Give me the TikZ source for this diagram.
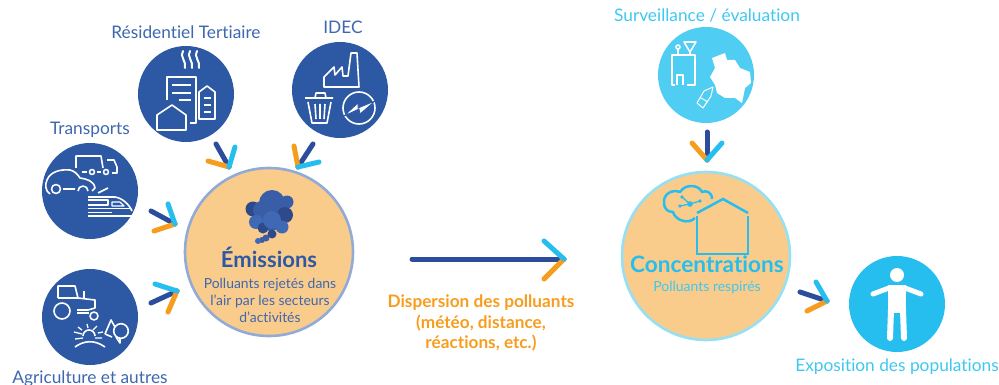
\documentclass[tikz,border=0pt]{standalone}
\usepackage{fontspec}
\setmainfont{Lato}[Ligatures={NoCommon,NoRare,NoDiscretionary}]
\usetikzlibrary{positioning,calc}
\definecolor{DarkBlue}{RGB}{44,88,164}
\definecolor{TextBlue}{RGB}{62,103,175}
\definecolor{NavyTick}{RGB}{44,76,156}
\definecolor{SkyTick}{RGB}{37,190,238}
\definecolor{AmberTick}{RGB}{247,157,30}
\definecolor{PaleOrange}{RGB}{250,204,140}
\definecolor{EdgeBlue}{RGB}{146,170,214}
\definecolor{EdgeSky}{RGB}{150,224,243}
\definecolor{LightSky}{RGB}{79,205,242}
\definecolor{TextSky}{RGB}{62,200,240}
\definecolor{PuffMain}{RGB}{58,93,168}
\definecolor{PuffDark}{RGB}{47,74,138}
\definecolor{PuffLight}{RGB}{63,104,181}
\tikzset{%
  sector/.style={%
    circle, fill=DarkBlue, minimum size=96pt, inner sep=0pt, outer sep=0pt
  },
  bigdisc/.style={%
    circle, fill=PaleOrange, line width=2.6pt, minimum size=168pt, inner sep=0pt, outer sep=0pt
  },
  caption/.style={%
    font=\fontsize{17.3}{20}\selectfont, text=TextBlue, inner sep=0pt, anchor=base
  },
  skycaption/.style={%
    caption, text=TextSky
  },
  icon/.style={white, line width=1.6pt, line join=round},
  navyline/.style={line width=5pt, line cap=round, draw=NavyTick},
  skyline/.style={line width=5pt, line cap=round, draw=SkyTick},
  amberline/.style={line width=5pt, line cap=round, draw=AmberTick},
}
\begin{document}
\begin{tikzpicture}[x=1pt,y=-1pt]
    \useasboundingbox (0,0) rectangle (999,385);

    % discs
    \node (RESID)[sector] at (186,94) {};
    \node (IDEC)[sector] at (340,90) {};
    \node (TRANS)[sector] at (90,191) {};
    \node (AGRI)[sector] at (90,317) {};
    \node (EMIS)[bigdisc, draw=EdgeBlue] at (269,252) {};
    \node (SURV)[sector, fill=LightSky] at (706,75) {};
    \node (CONC)[bigdisc, draw=EdgeSky] at (706,256) {};
    \node (EXPO)[sector, fill=SkyTick] at (897,304) {};

    % captions
    \node (RESIDTXT)[caption] at (186,39) {Résidentiel Tertiaire};
    \node (IDECTXT)[caption] at (343,34) {IDEC};
    \node (TRANSTXT)[caption] at (90,135) {Transports};
    \node (AGRITXT)[caption] at (90,383) {Agriculture et autres};
    \node (SURVTXT)[skycaption] at (707,22) {Surveillance / évaluation};
    \node (EXPOTXT)[skycaption] at (897,371) {Exposition des populations};

    % residentiel
    \foreach \dx in {0,7,14}{
      \draw[icon, line width=2pt, line cap=round, xshift=\dx pt]
        (183,51) .. controls (179,56) and (187,62) .. (185,68);
    }
    \draw[icon] (167,100) -- (167,77) -- (196,77) -- (196,123) -- (190,123);
    \draw[icon] (172,85) -- (191,85) (172,93) -- (191,93) (179,100) -- (191,100);
    \draw[icon] (199,119) -- (215,119) -- (215,92) -- (207,86) -- (199,92) -- cycle;
    \draw[icon] (204,98) -- (211,98) (204,105) -- (211,105) (204,112) -- (211,112);
    \draw[icon, fill=DarkBlue] (157,130) -- (186,130) -- (186,115) -- (172,105) -- (157,115) -- cycle;

    % idec
    \draw[icon] (324,87) -- (359,87) -- (357,53) -- (351,53) -- (348,76) -- (343,76) -- (342,67)
      -- (335,75) -- (334,67) -- (324,77) -- cycle;
    \draw[icon] (305,98) -- (333,98) (315,98) -- (316,93) -- (325,93) -- (326,98);
    \draw[icon] (308,102) -- (312,123) -- (327,123) -- (331,102);
    \draw[icon] (315,104) -- (316,119) (320,104) -- (320,119) (325,104) -- (324,119);
    \draw[icon] (359,108) circle (16);
    \fill[white, draw=DarkBlue, line width=.8pt] (344,116) -- (358,103) -- (358,108) -- (375,101) -- (360,114) -- (359,109) -- cycle;

    % transports
    \draw[icon] (76,168) -- (76,156) -- (101,156) -- (103,168);
    \draw[icon] (107,160) -- (114,160) -- (117,167) -- (117,173) -- (112,173);
    \draw[icon] (82,172) -- (87,172) (97,172) -- (101,172);
    \draw[icon] (92,172) circle (2.5) (106,172) circle (2.5);
    \draw[icon] (50,194) .. controls (45,191) and (45,184) .. (47,180) .. controls (50,172) and (60,169) .. (70,170)
      .. controls (75,171) and (78,175) .. (80,178) .. controls (87,179) and (94,181) .. (95,188) -- (92,191);
    \draw[icon] (56,189) circle (4.5) (63,189) -- (75,189);
    \draw[icon] (78,191) arc (180:360:5);
    \draw[icon] (98,193) -- (108,188) (88,197) -- (115,197) .. controls (122,198) and (129,204) .. (132,211);
    \draw[icon, line width=1.2pt] (88,200) -- (108,200) -- (108,205) -- (88,205);
    \draw[icon, line width=1.2pt] (112,202) -- (120,202) -- (124,206) -- (112,206) -- cycle;
    \draw[icon] (88,208.5) -- (131,208.5) (88,216) -- (132,216);
    \draw[icon, line width=1pt] (88,212) -- (112,212);

    % agriculture
    \draw[icon] (62,311) circle (8) (94,316) circle (4);
    \draw[icon] (58,298) -- (58,286) -- (75,286) -- (78,298) -- (95,300) -- (95,308) -- (88,310) -- (77,310);
    \draw[icon] (58,298) -- (78,298) (84,291) -- (84,299) (77,313) -- (89,313);
    \draw[icon] (83,336) arc (180:360:6);
    \draw[icon] (75,347) .. controls (83,341) and (94,339) .. (105,347);
    \draw[icon, line width=1.3pt] (87,324) -- (88,328) (78,327) -- (82,330) (97,326) -- (93,330) (74,332) -- (82,334) (98,333) -- (103,332) (75,339) -- (83,338) (95,338) -- (102,338);
    \draw[icon] (105,334) -- (111,320) -- (115,327) (105,334) -- (112,337);
    \draw[icon] (121,331) circle (7.3) (116,337) -- (120,343) -- (120,338);

    % emissions cloud
    \foreach \cx/\cy/\cr/\tone in {%
      270/218/13/PuffMain, 287/202/6.5/PuffMain, 253/209/7.5/PuffDark, 272/203/13/PuffMain, 262/210/9/PuffMain,
      285/215/8/PuffDark, 256/222/7/PuffLight, 263/228/5.5/PuffDark, 272/220/9/PuffLight, 282/227/6.5/PuffLight,
      272/234/4.5/PuffDark, 266/238/3.5/PuffMain, 262/240/3/PuffMain, 258/241/3/PuffLight}{
      \fill[\tone] (\cx,\cy) circle (\cr);
    }
    \node (EMISTXT)[inner sep=0pt, anchor=base, text=DarkBlue, font=\fontsize{22}{26}\selectfont\bfseries] at (269,267) {Émissions};
    \node (EMISSUB)[inner sep=0pt, text=TextBlue, align=center, font=\fontsize{13.9}{17}\selectfont] at (270,300) {Polluants rejetés dans\\l’air par les secteurs\\d’activités};

    % concentrations
    \draw[SkyTick, line width=2.5pt, line join=round] (712,199) .. controls (712,192) and (706,190) .. (702,192)
      .. controls (699,185) and (686,183) .. (680,192) .. controls (672,189) and (663,194) .. (664,203)
      .. controls (664,209) and (668,212) .. (673,212) .. controls (675,220) and (688,225) .. (695,218);
    \draw[SkyTick, line width=1.2pt] (682,197) -- (690,204) -- (700,201) (680,206) -- (690,204);
    \fill[SkyTick] (690,204) circle (2.8) (700,201) circle (1.8) (680,206) circle (1.8) (682,197) circle (1.8);
    \draw[SkyTick, line width=2.5pt] (697,213) -- (723,199) -- (748,213);
    \draw[SkyTick, line width=2.5pt] (697,216) -- (697,254) -- (748,254) -- (748,216);
    \node (CONCTXT)[inner sep=0pt, anchor=base, text=SkyTick, font=\fontsize{22.6}{26}\selectfont\bfseries] at (707,272) {Concentrations};
    \node (CONCSUB)[inner sep=0pt, anchor=base, text=TextSky, font=\fontsize{14}{16}\selectfont] at (707,291) {Polluants respirés};

    % surveillance
    \draw[icon] (675,85) -- (672,85) -- (672,55) -- (695,55) -- (695,85) -- (687,85);
    \draw[icon] (677,85) -- (677,75) -- (683,75) -- (683,85);
    \draw[icon] (678,49) -- (678,54) (678,47) circle (2);
    \draw[icon] (684,42) -- (696,42) -- (690,52) -- cycle (690,52) -- (690,55);
    \fill[white] (712,58) -- (725,53) -- (727,60) -- (735,60) -- (740,68) -- (750,72) -- (751,83) -- (745,88)
      -- (742,103) -- (735,98) -- (725,98) -- (717,93) -- (715,85) -- (710,77) -- (715,68) -- cycle;
    \draw[icon, line width=1pt] (697,103) -- (703,108) -- (711,96) -- (713,87) -- (704,91) -- cycle (701,98) -- (708,102);

    % person
    \fill[white] (897,275) circle (7);
    \draw[white, line width=5pt, line cap=round] (873,294) -- (889,288) (921,294) -- (905,288);
    \fill[white] (888,285) -- (906,285) -- (906,313) -- (888,313) -- cycle;
    \draw[white, line width=6pt, line cap=round] (891,310) -- (890,338) (903,310) -- (904,338);

    % dispersion
    \node (DISPTXT)[inner sep=0pt, align=center, text=AmberTick, font=\fontsize{17.2}{20.5}\selectfont\bfseries] at (481,323) {Dispersion des polluants\\(météo, distance,\\réactions, etc.)};

    % ticks
    \foreach \name/\tip/\navy/\amber/\sky in {%
      res/{229,167}/{216,144}/{208,161}/{235,147},
      ide/{298,167}/{313,144}/{294,146}/{319,162},
      tra/{175,224}/{151,211}/{154,231}/{168,204},
      agr/{177,291}/{151,303}/{168,312}/{155,284},
      dis/{564,259}/{412,259}/{544,279}/{544,241},
      sur/{707,160}/{707,132}/{692,143}/{722,143},
      exp/{827,301}/{800,292}/{807,311}/{816,282}}{
      \coordinate (TIP\name) at (\tip);
      \coordinate (NAVY\name) at (\navy);
      \coordinate (AMBER\name) at (\amber);
      \coordinate (SKY\name) at (\sky);
      \path[navyline] (NAVY\name) edge (TIP\name);
      \path[amberline] (AMBER\name) edge (TIP\name);
      \path[skyline] (SKY\name) edge (TIP\name);
    }
\end{tikzpicture}
\end{document}
